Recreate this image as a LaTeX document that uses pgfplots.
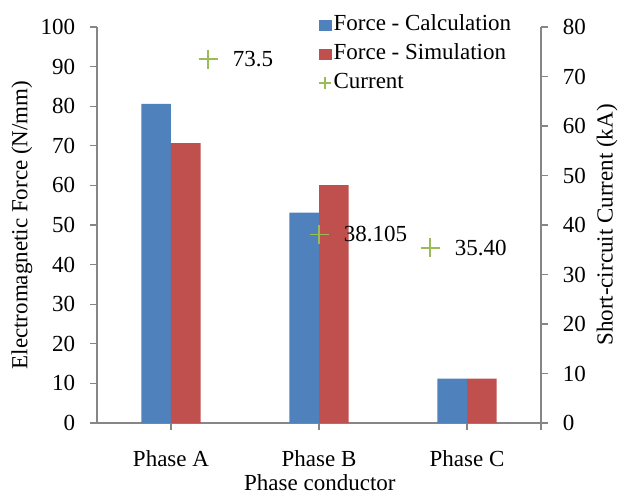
\documentclass[border=0pt]{standalone}
\usepackage{fontspec}
\setmainfont{Liberation Serif}
\usepackage{pgfplots}
\pgfplotsset{compat=1.18}
\definecolor{calcblue}{HTML}{4F81BD}
\definecolor{simred}{HTML}{C0504D}
\definecolor{curgreen}{HTML}{9BBB59}
\definecolor{axgray}{HTML}{868686}

\begin{document}
\fontsize{23bp}{27bp}\selectfont
\begin{tikzpicture}
\pgfplotsset{
  every axis/.append style={
    width=444bp, height=396bp, scale only axis,
    xmin=-0.5, xmax=2.5,
    /pgf/number format/assume math mode=true,
    tick align=outside,
    major tick length=7bp,
    axis line style={axgray, line width=1.2bp},
    every tick/.style={axgray, line width=1.2bp},
    clip=false,
  },
}
% force bars, left axis
\begin{axis}[
  axis x line*=bottom, axis y line*=left,
  ymin=0, ymax=100, ytick={0,10,...,100},
  xtick={0,1,2}, xticklabels={Phase A, Phase B, Phase C},
  extra x ticks={2.5}, extra x tick labels={},
  xticklabel style={yshift=-13bp},
  yticklabel style={xshift=-7bp},
  ybar=0pt, bar width=0.2,
  every axis y label/.style={at={(axis description cs:-0.169,0.5)}, rotate=90, anchor=center},
  every axis x label/.style={at={(axis description cs:0.502,-0.151)}, anchor=center},
  ylabel={Electromagnetic Force (N/mm)},
  xlabel={Phase conductor},
]
\addplot[fill=calcblue, draw=none] coordinates {(0,80.6) (1,53.1) (2,11.2)};
\addplot[fill=simred, draw=none] coordinates {(0,70.7) (1,60.1) (2,11.2)};
\end{axis}
% current, right axis
\begin{axis}[
  axis x line=none, axis y line*=right,
  ymin=0, ymax=80, ytick={0,10,...,80},
  yticklabel style={xshift=7bp},
  every axis y label/.style={at={(axis description cs:1.149,0.5)}, rotate=90, anchor=center},
  ylabel={Short-circuit Current (kA)},
  legend style={at={(axis description cs:0.498,1.036)}, anchor=north west,
    draw=none, fill=none, inner sep=0pt, row sep=5bp,
    nodes={inner xsep=2bp, inner ysep=1.5bp, text height=16bp, text depth=5bp}},
  legend cell align=left,
]
\addlegendimage{legend image code/.code={\fill[calcblue] (0bp,-5bp) rectangle (12bp,5bp);}}
\addlegendentry{Force - Calculation}
\addlegendimage{legend image code/.code={\fill[simred] (0bp,-5bp) rectangle (12bp,5bp);}}
\addlegendentry{Force - Simulation}
\addlegendimage{legend image code/.code={\draw[curgreen, line width=1.3bp] (0bp,0bp)--(12bp,0bp) (6bp,-6bp)--(6bp,6bp);}}
\addlegendentry{Current}
\addplot[only marks, mark=+, mark size=9.5bp, curgreen, line width=1.5bp,
  nodes near coords, point meta=explicit symbolic,
  every node near coord/.style={anchor=west, xshift=24bp, inner sep=0pt, text=black},
  forget plot]
  table[meta=label] {
x y label
0.25 73.5 73.5
1 38.105 38.105
1.75 35.40 35.40
};
\end{axis}
\pgfresetboundingbox
\useasboundingbox (-97bp,-74bp) rectangle (522bp,423bp);
\end{tikzpicture}
\end{document}
